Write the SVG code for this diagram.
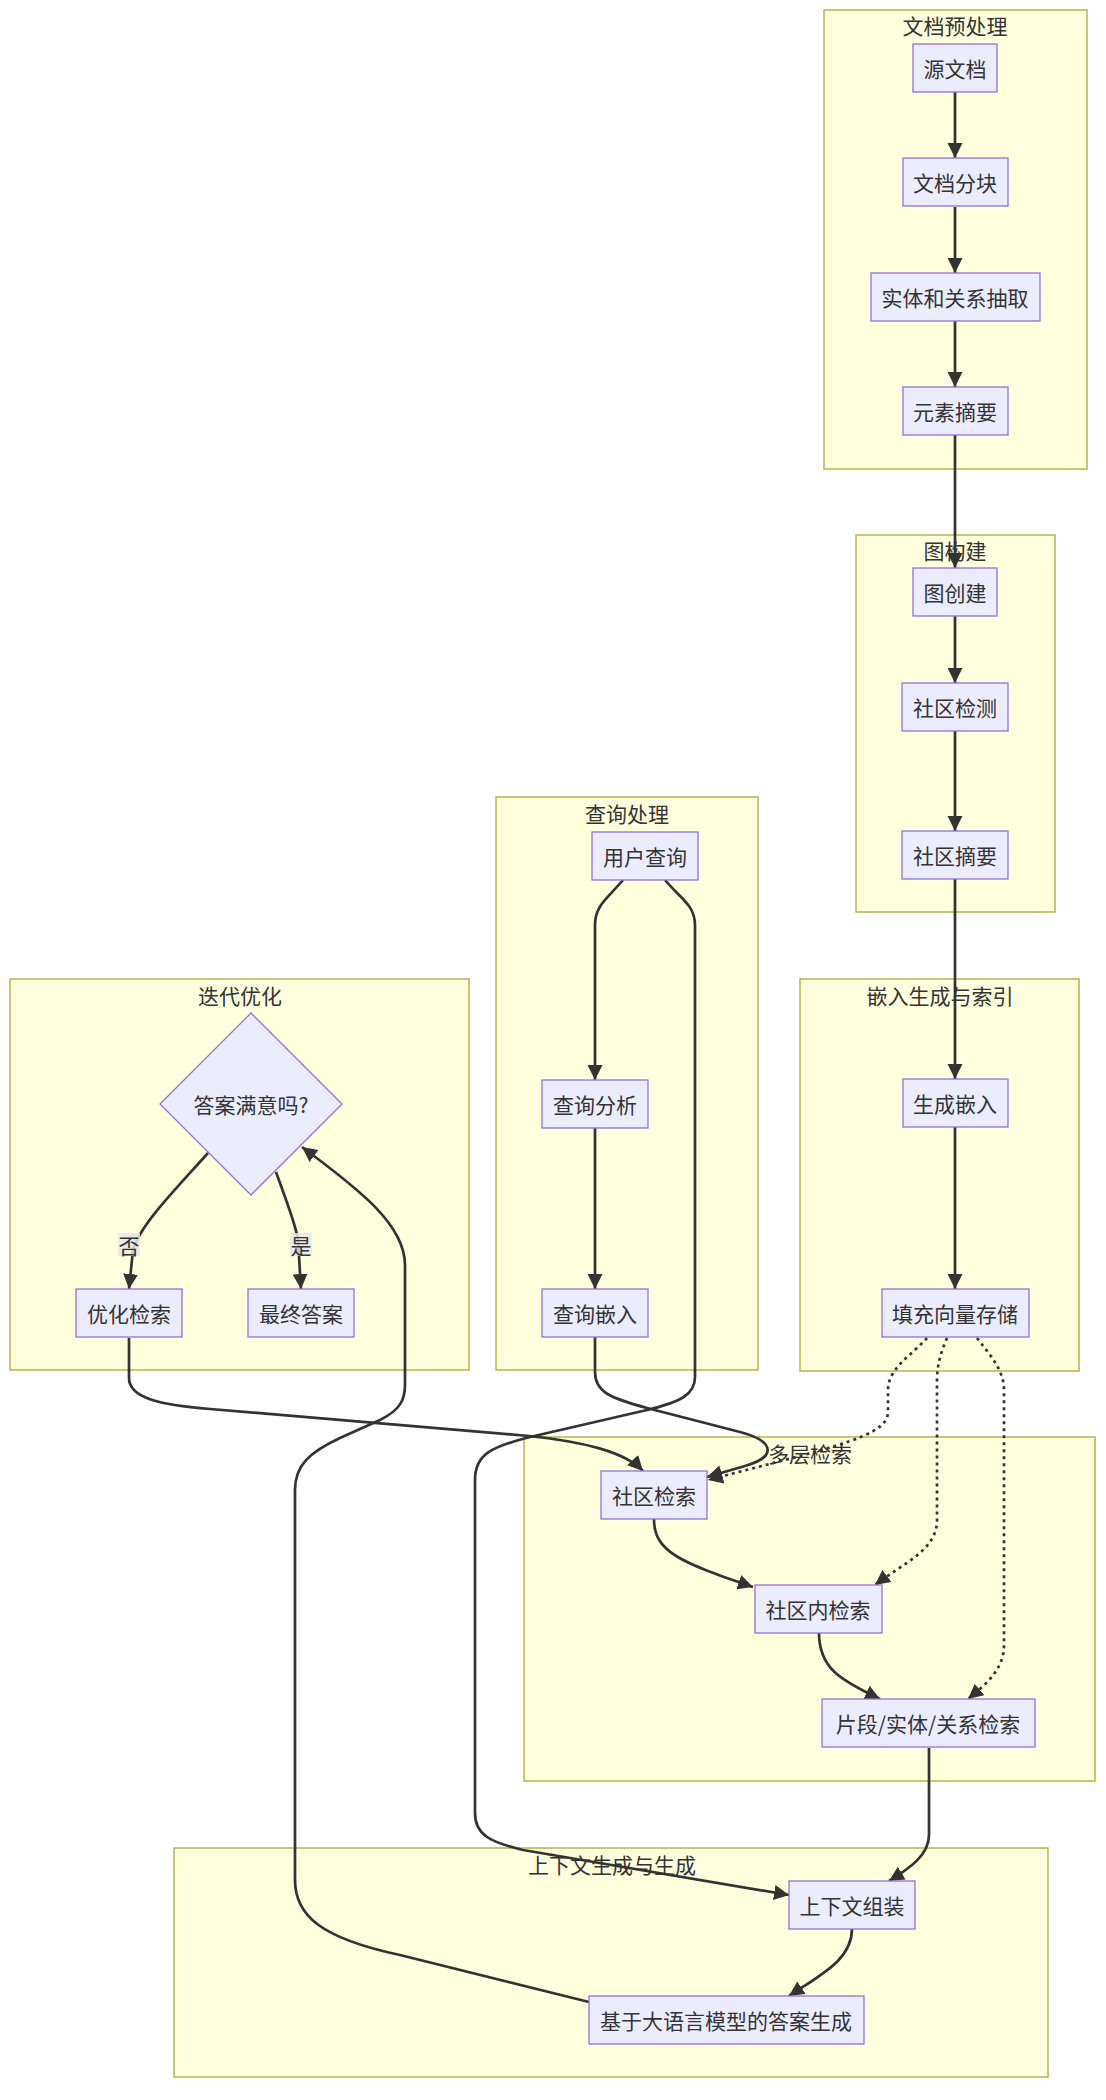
<svg xmlns="http://www.w3.org/2000/svg" width="1106" height="2100" viewBox="0 0 1106 2100">
<style>
.cl{fill:#ffffde;stroke:#aaaa33;stroke-width:1.3}
.ct{font-family:"Noto Sans CJK SC","Liberation Sans",sans-serif;font-size:21px;fill:#333;text-anchor:middle;dominant-baseline:central}
.nd{fill:#ECECFF;stroke:#9370DB;stroke-width:1.3}
.nt{font-family:"Noto Sans CJK SC","Liberation Sans",sans-serif;font-size:21px;fill:#333;text-anchor:middle;dominant-baseline:central}
.e{fill:none;stroke:#333;stroke-width:2.7;marker-end:url(#ah)}
.d{stroke-dasharray:3 4}
.lb{fill:#e8e8e8;fill-opacity:0.85}
</style>
<defs>
<marker id="ah" markerUnits="userSpaceOnUse" markerWidth="16" markerHeight="16" refX="15" refY="7.5" orient="auto">
<path d="M0,0 L15,7.5 L0,15 z" fill="#333"/>
</marker>
</defs>
<rect width="1106" height="2100" fill="#fff"/>
<g id="clusters">
<g id="c-doc"><rect class="cl" x="824" y="10" width="263" height="459"/><text class="ct" x="955" y="25">文档预处理</text></g>
<g id="c-graph"><rect class="cl" x="856" y="535" width="199" height="377"/><text class="ct" x="955" y="550">图构建</text></g>
<g id="c-query"><rect class="cl" x="496" y="797" width="262" height="573"/><text class="ct" x="627" y="813">查询处理</text></g>
<g id="c-iter"><rect class="cl" x="10" y="979" width="459" height="391"/><text class="ct" x="240" y="995">迭代优化</text></g>
<g id="c-embed"><rect class="cl" x="800" y="979" width="279" height="392"/><text class="ct" x="940" y="995">嵌入生成与索引</text></g>
<g id="c-retr"><rect class="cl" x="524" y="1437" width="571" height="344"/><text class="ct" x="810" y="1453">多层检索</text></g>
<g id="c-gen"><rect class="cl" x="174" y="1848" width="874" height="229"/><text class="ct" x="612" y="1864">上下文生成与生成</text></g>
</g>
<g id="edges">
<path class="e" d="M955,92 L955,158"/>
<path class="e" d="M955,207 L955,273"/>
<path class="e" d="M955,321 L955,387"/>
<path class="e" d="M955,435 L955,568"/>
<path class="e" d="M955,616 L955,683"/>
<path class="e" d="M955,731 L955,831"/>
<path class="e" d="M955,879 L955,1079"/>
<path class="e" d="M955,1127 L955,1289"/>
<path class="e" d="M623,880 C608,898 595,905 595,925 L595,1080"/>
<path class="e" d="M595,1128 L595,1289"/>
<path class="e" d="M595,1337 L595,1372 C595,1392 610,1398 647,1408 L740,1432 C778,1442 774,1458 745,1466 L707,1477"/>
<path class="e d" d="M927,1338 C912,1355 888,1368 888,1390 L888,1412 C888,1432 850,1442 800,1456 L708,1480"/>
<path class="e d" d="M947,1338 C941,1352 937,1365 937,1380 L937,1520 C937,1550 905,1562 875,1585"/>
<path class="e d" d="M977,1338 C990,1355 1004,1370 1004,1390 L1004,1645 C1004,1670 985,1685 968,1699"/>
<path class="e" d="M654,1519 C654,1552 680,1562 753,1587"/>
<path class="e" d="M819,1633 C819,1668 840,1680 880,1699"/>
<path class="e" d="M929,1748 L929,1835 C929,1855 910,1868 889,1881"/>
<path class="e" d="M665,880 C680,898 695,905 695,925 L695,1377 C695,1395 680,1402 647,1410 L530,1437 C490,1447 475,1455 475,1480 L475,1813 C475,1835 490,1842 523,1850 L789,1895"/>
<path class="e" d="M852,1929 C852,1960 820,1975 789,1996"/>
<path class="e" d="M589,2002 L400,1955 C320,1938 295,1915 295,1880 L295,1490 C295,1465 310,1452 340,1438 L380,1420 C400,1410 405,1400 405,1385 L405,1265 C405,1225 360,1190 302,1147"/>
<path class="e" d="M208,1153 C175,1190 140,1225 133,1250 L129,1289"/>
<path class="e" d="M276,1172 C286,1200 296,1225 298,1240 L301,1289"/>
<path class="e" d="M129,1338 L129,1378 C129,1398 160,1405 210,1409 L529,1436 C585,1442 625,1452 643,1471"/>
</g>
<g id="edge-labels">
<g id="l-no"><rect class="lb" x="118" y="1233" width="22" height="23"/><text class="nt" x="129" y="1244.5">否</text></g>
<g id="l-yes"><rect class="lb" x="290" y="1233" width="22" height="23"/><text class="nt" x="301" y="1244.5">是</text></g>
</g>
<g id="nodes">
<g id="n-src"><rect class="nd" x="913" y="44" width="84" height="48"/><text class="nt" x="955" y="68">源文档</text></g>
<g id="n-chunk"><rect class="nd" x="903" y="158" width="105" height="48"/><text class="nt" x="955" y="182">文档分块</text></g>
<g id="n-extract"><rect class="nd" x="871" y="273" width="169" height="48"/><text class="nt" x="955" y="297">实体和关系抽取</text></g>
<g id="n-elsum"><rect class="nd" x="903" y="387" width="105" height="48"/><text class="nt" x="955" y="411">元素摘要</text></g>
<g id="n-gcreate"><rect class="nd" x="913" y="568" width="84" height="48"/><text class="nt" x="955" y="592">图创建</text></g>
<g id="n-cdetect"><rect class="nd" x="902" y="683" width="106" height="48"/><text class="nt" x="955" y="707">社区检测</text></g>
<g id="n-csum"><rect class="nd" x="902" y="831" width="106" height="48"/><text class="nt" x="955" y="855">社区摘要</text></g>
<g id="n-uq"><rect class="nd" x="592" y="832" width="106" height="48"/><text class="nt" x="645" y="856">用户查询</text></g>
<g id="n-qa"><rect class="nd" x="542" y="1080" width="106" height="48"/><text class="nt" x="595" y="1104">查询分析</text></g>
<g id="n-qe"><rect class="nd" x="542" y="1289" width="106" height="48"/><text class="nt" x="595" y="1313">查询嵌入</text></g>
<g id="n-ge"><rect class="nd" x="903" y="1079" width="105" height="48"/><text class="nt" x="955" y="1103">生成嵌入</text></g>
<g id="n-vs"><rect class="nd" x="882" y="1289" width="147" height="48"/><text class="nt" x="955" y="1313">填充向量存储</text></g>
<g id="n-dec"><polygon class="nd" points="251,1013 342,1104 251,1195 160,1104"/><text class="nt" x="251" y="1104">答案满意吗?</text></g>
<g id="n-opt"><rect class="nd" x="76" y="1289" width="106" height="48"/><text class="nt" x="129" y="1313">优化检索</text></g>
<g id="n-final"><rect class="nd" x="248" y="1289" width="106" height="48"/><text class="nt" x="301" y="1313">最终答案</text></g>
<g id="n-cr"><rect class="nd" x="601" y="1471" width="106" height="48"/><text class="nt" x="654" y="1495">社区检索</text></g>
<g id="n-icr"><rect class="nd" x="755" y="1585" width="127" height="48"/><text class="nt" x="818" y="1609">社区内检索</text></g>
<g id="n-ser"><rect class="nd" x="822" y="1699" width="213" height="48"/><text class="nt" x="928" y="1723">片段/实体/关系检索</text></g>
<g id="n-ctx"><rect class="nd" x="789" y="1881" width="126" height="48"/><text class="nt" x="852" y="1905">上下文组装</text></g>
<g id="n-llm"><rect class="nd" x="589" y="1996" width="275" height="48"/><text class="nt" x="726" y="2020">基于大语言模型的答案生成</text></g>
</g>
</svg>
